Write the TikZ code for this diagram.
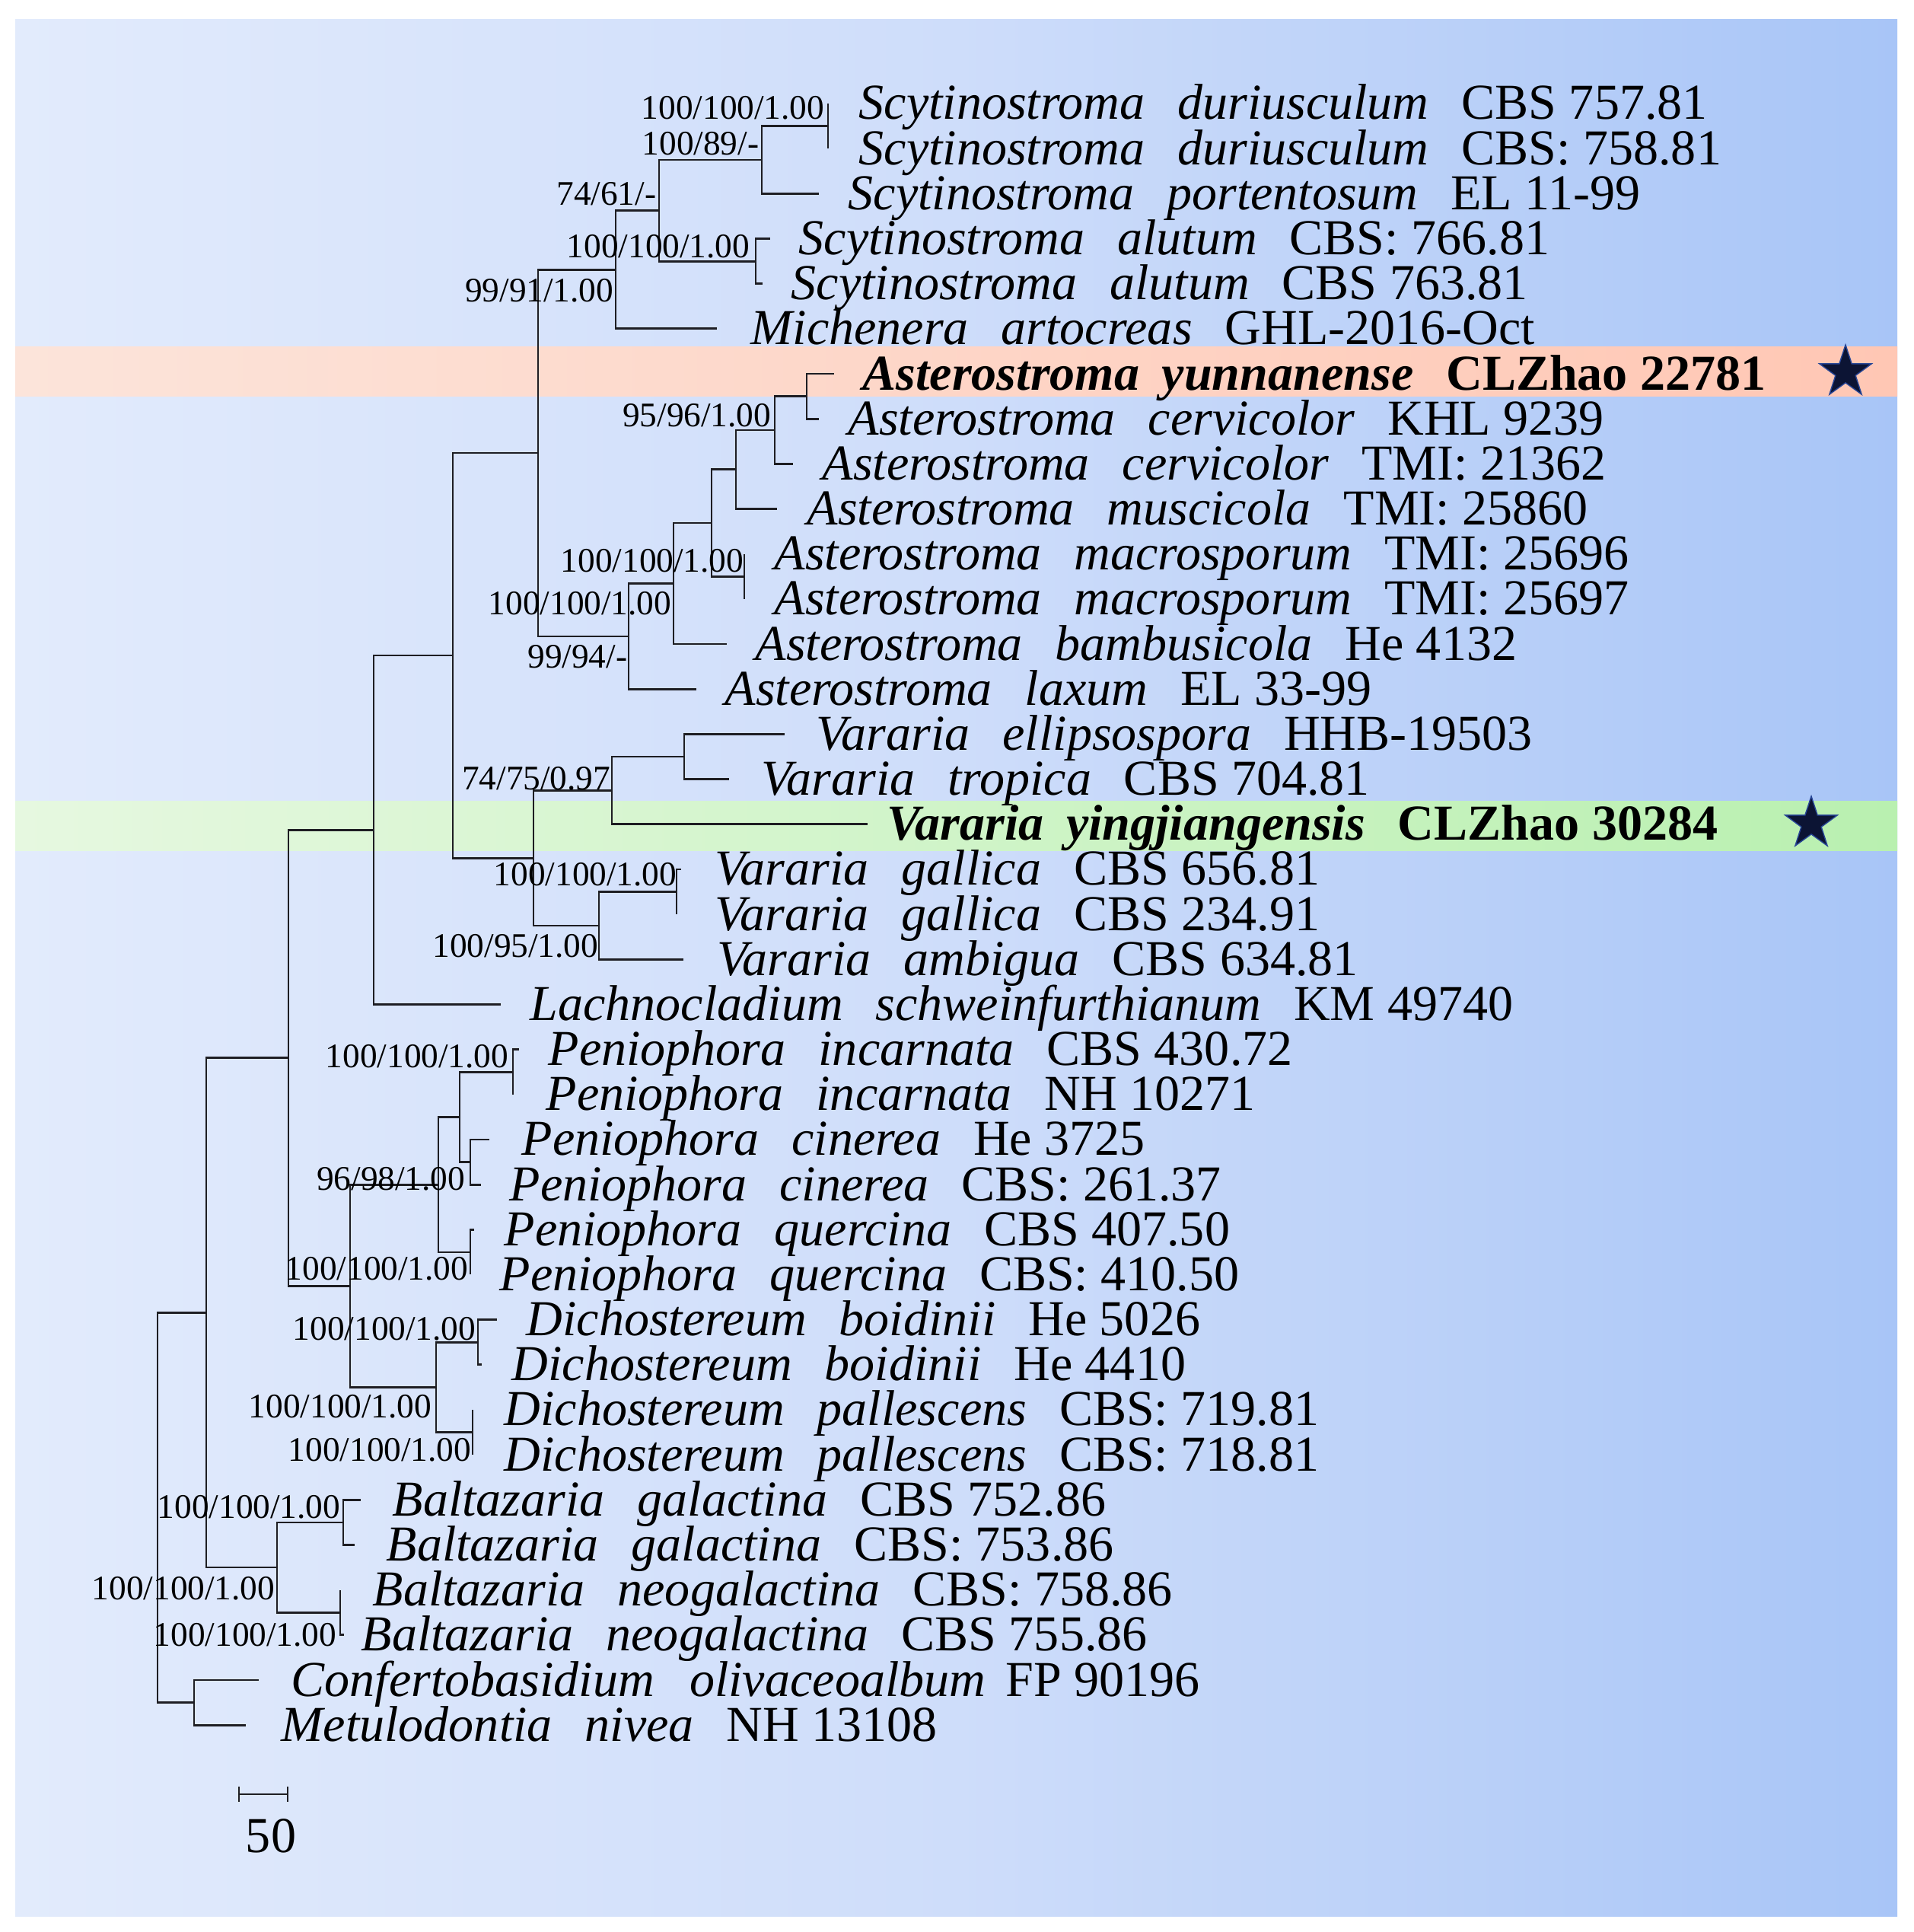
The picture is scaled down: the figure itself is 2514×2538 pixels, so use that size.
\documentclass[tikz,border=0pt]{standalone}
\usepackage{fontspec}
\setmainfont{Liberation Serif}
\usetikzlibrary{shapes.geometric}
\definecolor{bgL}{RGB}{226,235,252}
\definecolor{bgM}{RGB}{206,221,250}
\definecolor{bgR}{RGB}{168,197,247}
\definecolor{orL}{RGB}{252,228,218}
\definecolor{orR}{RGB}{255,199,180}
\definecolor{grL}{RGB}{230,248,224}
\definecolor{grR}{RGB}{185,240,176}
\definecolor{lineC}{RGB}{30,30,35}
\definecolor{starC}{RGB}{12,20,52}
\definecolor{starE}{RGB}{40,70,150}
\newcommand{\taxon}[3]{\textit{#1}\hspace{0.65em}\textit{#2}\hspace{0.65em}#3}
\newcommand{\btaxon}[3]{\textbf{\textit{#1}\hspace{0.45em}\textit{#2}\hspace{0.65em}#3}}
\begin{document}
\begin{tikzpicture}[x=0.1mm,y=-0.1mm,
  br/.style={line width=0.8pt, draw=lineC},
  tiplab/.style={anchor=base west, inner sep=0pt, font=\fontsize{18.8}{20}\selectfont},
  suplab/.style={anchor=base east, inner sep=0pt, font=\fontsize{12.9}{14}\selectfont},
  starmark/.style={star, star points=5, star point ratio=2.6, minimum size=7.2mm, inner sep=0pt, fill=starC, draw=starE, line width=0.4pt}]
\useasboundingbox (0,0) rectangle (2514,2538);
\fill[white] (0,0) rectangle (2514,2538);
\shade[left color=bgL, right color=bgR, middle color=bgM] (20,26) rectangle (2493,2517);
\shade[left color=orL, right color=orR] (20,455) rectangle (2493,520);
\shade[left color=grL, right color=grR] (20,1052) rectangle (2493,1117);

% tips
\coordinate (t1) at (1088,136);
\coordinate (t2) at (1088,195.2);
\coordinate (t3) at (1076,254.3);
\coordinate (t4) at (1012,313.5);
\coordinate (t5) at (1002,372.7);
\coordinate (t6) at (942,431.9);
\coordinate (t7) at (1096,491.0);
\coordinate (t8) at (1076,550.2);
\coordinate (t9) at (1042,609.4);
\coordinate (t10) at (1021,668.5);
\coordinate (t11) at (978,727.7);
\coordinate (t12) at (978,786.9);
\coordinate (t13) at (955,846.0);
\coordinate (t14) at (915,905.2);
\coordinate (t15) at (1031,964.4);
\coordinate (t16) at (958,1023.6);
\coordinate (t17) at (1140,1082.7);
\coordinate (t18) at (895,1141.9);
\coordinate (t19) at (889,1201.1);
\coordinate (t20) at (898,1260.2);
\coordinate (t21) at (658,1319.4);
\coordinate (t22) at (682,1378.6);
\coordinate (t23) at (674,1437.7);
\coordinate (t24) at (643,1496.9);
\coordinate (t25) at (632,1556.1);
\coordinate (t26) at (623,1615.3);
\coordinate (t27) at (618,1674.4);
\coordinate (t28) at (653,1733.6);
\coordinate (t29) at (633,1792.8);
\coordinate (t30) at (621,1851.9);
\coordinate (t31) at (621,1911.1);
\coordinate (t32) at (474,1970.3);
\coordinate (t33) at (466,2029.4);
\coordinate (t34) at (447,2088.6);
\coordinate (t35) at (452,2147.8);
\coordinate (t36) at (340,2207.0);
\coordinate (t37) at (323,2266.1);

% internal nodes
\coordinate (K) at (1088,165.6);
\coordinate (I) at (1001,210);
\coordinate (J) at (993,343.1);
\coordinate (H) at (866,276.5);
\coordinate (F) at (809,354.2);
\coordinate (Q) at (1060,520.6);
\coordinate (P) at (1018,565);
\coordinate (N) at (967,616.8);
\coordinate (O) at (978,757.3);
\coordinate (M) at (935,687);
\coordinate (L) at (885,766.5);
\coordinate (G) at (826,835.9);
\coordinate (E) at (707,595);
\coordinate (T) at (899,994);
\coordinate (R) at (804,1038.4);
\coordinate (U) at (889,1171.5);
\coordinate (S) at (787,1215.9);
\coordinate (V) at (701,1127.1);
\coordinate (D) at (595,861);
\coordinate (C) at (491,1090.2);
\coordinate (Inc) at (674,1408.2);
\coordinate (Cin) at (618,1526.5);
\coordinate (Zn) at (604,1467.3);
\coordinate (Que) at (618,1644.9);
\coordinate (X) at (576,1556.1);
\coordinate (Boi) at (628,1763.2);
\coordinate (Pal) at (621,1881.5);
\coordinate (Y) at (573,1822.4);
\coordinate (W) at (460,1689.2);
\coordinate (B) at (379,1389.7);
\coordinate (Gal) at (451,1999.9);
\coordinate (Neo) at (447,2118.2);
\coordinate (Bal) at (364,2059);
\coordinate (A) at (271,1724.4);
\coordinate (CM) at (255,2236.5);
\coordinate (Root) at (207,1980.5);

% branches
\draw[br] (K) |- (t1); \draw[br] (K) |- (t2);
\draw[br] (I) |- (K); \draw[br] (I) |- (t3);
\draw[br] (J) |- (t4); \draw[br] (J) |- (t5);
\draw[br] (H) |- (I); \draw[br] (H) |- (J);
\draw[br] (F) |- (H); \draw[br] (F) |- (t6);
\draw[br] (Q) |- (t7); \draw[br] (Q) |- (t8);
\draw[br] (P) |- (Q); \draw[br] (P) |- (t9);
\draw[br] (N) |- (P); \draw[br] (N) |- (t10);
\draw[br] (O) |- (t11); \draw[br] (O) |- (t12);
\draw[br] (M) |- (N); \draw[br] (M) |- (O);
\draw[br] (L) |- (M); \draw[br] (L) |- (t13);
\draw[br] (G) |- (L); \draw[br] (G) |- (t14);
\draw[br] (E) |- (F); \draw[br] (E) |- (G);
\draw[br] (T) |- (t15); \draw[br] (T) |- (t16);
\draw[br] (R) |- (T); \draw[br] (R) |- (t17);
\draw[br] (U) |- (t18); \draw[br] (U) |- (t19);
\draw[br] (S) |- (U); \draw[br] (S) |- (t20);
\draw[br] (V) |- (R); \draw[br] (V) |- (S);
\draw[br] (D) |- (E); \draw[br] (D) |- (V);
\draw[br] (C) |- (D); \draw[br] (C) |- (t21);
\draw[br] (Inc) |- (t22); \draw[br] (Inc) |- (t23);
\draw[br] (Cin) |- (t24); \draw[br] (Cin) |- (t25);
\draw[br] (Zn) |- (Inc); \draw[br] (Zn) |- (Cin);
\draw[br] (Que) |- (t26); \draw[br] (Que) |- (t27);
\draw[br] (X) |- (Zn); \draw[br] (X) |- (Que);
\draw[br] (Boi) |- (t28); \draw[br] (Boi) |- (t29);
\draw[br] (Pal) |- (t30); \draw[br] (Pal) |- (t31);
\draw[br] (Y) |- (Boi); \draw[br] (Y) |- (Pal);
\draw[br] (W) |- (X); \draw[br] (W) |- (Y);
\draw[br] (B) |- (C); \draw[br] (B) |- (W);
\draw[br] (Gal) |- (t32); \draw[br] (Gal) |- (t33);
\draw[br] (Neo) |- (t34); \draw[br] (Neo) |- (t35);
\draw[br] (Bal) |- (Gal); \draw[br] (Bal) |- (Neo);
\draw[br] (A) |- (B); \draw[br] (A) |- (Bal);
\draw[br] (CM) |- (t36); \draw[br] (CM) |- (t37);
\draw[br] (Root) |- (A); \draw[br] (Root) |- (CM);

% tip labels
\node[tiplab] (l1) at (1128,157) {\taxon{Scytinostroma}{duriusculum}{CBS 757.81}};
\node[tiplab] (l2) at (1128,216.2) {\taxon{Scytinostroma}{duriusculum}{CBS: 758.81}};
\node[tiplab] (l3) at (1114,275.3) {\taxon{Scytinostroma}{portentosum}{EL 11-99}};
\node[tiplab] (l4) at (1049,334.5) {\taxon{Scytinostroma}{alutum}{CBS: 766.81}};
\node[tiplab] (l5) at (1039,393.7) {\taxon{Scytinostroma}{alutum}{CBS 763.81}};
\node[tiplab] (l6) at (986,452.9) {\taxon{Michenera}{artocreas}{GHL-2016-Oct}};
\node[tiplab] (l7) at (1133,512.0) {\btaxon{Asterostroma}{yunnanense}{CLZhao 22781}};
\node[tiplab] (l8) at (1114,571.2) {\taxon{Asterostroma}{cervicolor}{KHL 9239}};
\node[tiplab] (l9) at (1080,630.4) {\taxon{Asterostroma}{cervicolor}{TMI: 21362}};
\node[tiplab] (l10) at (1060,689.5) {\taxon{Asterostroma}{muscicola}{TMI: 25860}};
\node[tiplab] (l11) at (1017,748.7) {\taxon{Asterostroma}{macrosporum}{TMI: 25696}};
\node[tiplab] (l12) at (1017,807.9) {\taxon{Asterostroma}{macrosporum}{TMI: 25697}};
\node[tiplab] (l13) at (992,867.0) {\taxon{Asterostroma}{bambusicola}{He 4132}};
\node[tiplab] (l14) at (952,926.2) {\taxon{Asterostroma}{laxum}{EL 33-99}};
\node[tiplab] (l15) at (1072,985.4) {\taxon{Vararia}{ellipsospora}{HHB-19503}};
\node[tiplab] (l16) at (1000,1044.6) {\taxon{Vararia}{tropica}{CBS 704.81}};
\node[tiplab] (l17) at (1165,1103.7) {\btaxon{Vararia}{yingjiangensis}{CLZhao 30284}};
\node[tiplab] (l18) at (939,1162.9) {\taxon{Vararia}{gallica}{CBS 656.81}};
\node[tiplab] (l19) at (939,1222.1) {\taxon{Vararia}{gallica}{CBS 234.91}};
\node[tiplab] (l20) at (942,1281.2) {\taxon{Vararia}{ambigua}{CBS 634.81}};
\node[tiplab] (l21) at (696,1340.4) {\taxon{Lachnocladium}{schweinfurthianum}{KM 49740}};
\node[tiplab] (l22) at (720,1399.6) {\taxon{Peniophora}{incarnata}{CBS 430.72}};
\node[tiplab] (l23) at (717,1458.7) {\taxon{Peniophora}{incarnata}{NH 10271}};
\node[tiplab] (l24) at (685,1517.9) {\taxon{Peniophora}{cinerea}{He 3725}};
\node[tiplab] (l25) at (669,1577.1) {\taxon{Peniophora}{cinerea}{CBS: 261.37}};
\node[tiplab] (l26) at (662,1636.3) {\taxon{Peniophora}{quercina}{CBS 407.50}};
\node[tiplab] (l27) at (656,1695.4) {\taxon{Peniophora}{quercina}{CBS: 410.50}};
\node[tiplab] (l28) at (691,1754.6) {\taxon{Dichostereum}{boidinii}{He 5026}};
\node[tiplab] (l29) at (672,1813.8) {\taxon{Dichostereum}{boidinii}{He 4410}};
\node[tiplab] (l30) at (662,1872.9) {\taxon{Dichostereum}{pallescens}{CBS: 719.81}};
\node[tiplab] (l31) at (662,1932.1) {\taxon{Dichostereum}{pallescens}{CBS: 718.81}};
\node[tiplab] (l32) at (515,1991.3) {\taxon{Baltazaria}{galactina}{CBS 752.86}};
\node[tiplab] (l33) at (507,2050.4) {\taxon{Baltazaria}{galactina}{CBS: 753.86}};
\node[tiplab] (l34) at (489,2109.6) {\taxon{Baltazaria}{neogalactina}{CBS: 758.86}};
\node[tiplab] (l35) at (474,2168.8) {\taxon{Baltazaria}{neogalactina}{CBS 755.86}};
\node[tiplab] (l36) at (382,2228.0) {\textit{Confertobasidium}\hspace{0.7em}\textit{olivaceoalbum}\hspace{0.4em}FP 90196};
\node[tiplab] (l37) at (369,2287.1) {\taxon{Metulodontia}{nivea}{NH 13108}};

% support values
\node[suplab] (s1) at (1084,157) {100/100/1.00};
\node[suplab] (s2) at (998,203) {100/89/-};
\node[suplab] (s3) at (863,270) {74/61/-};
\node[suplab] (s4) at (986,338) {100/100/1.00};
\node[suplab] (s5) at (807,396) {99/91/1.00};
\node[suplab] (s6) at (1014,560) {95/96/1.00};
\node[suplab] (s7) at (978,751) {100/100/1.00};
\node[suplab] (s8) at (883,807) {100/100/1.00};
\node[suplab] (s9) at (825,877) {99/94/-};
\node[suplab] (s10) at (803,1037) {74/75/0.97};
\node[suplab] (s11) at (890,1163) {100/100/1.00};
\node[suplab] (s12) at (787,1257) {100/95/1.00};
\node[suplab] (s13) at (669,1402) {100/100/1.00};
\node[suplab] (s14) at (612,1563) {96/98/1.00};
\node[suplab] (s15) at (616,1681) {100/100/1.00};
\node[suplab] (s16) at (626,1760) {100/100/1.00};
\node[suplab] (s17) at (568,1862) {100/100/1.00};
\node[suplab] (s18) at (620,1919) {100/100/1.00};
\node[suplab] (s19) at (448,1994) {100/100/1.00};
\node[suplab] (s20) at (362,2101) {100/100/1.00};
\node[suplab] (s21) at (443,2162) {100/100/1.00};

% stars
\node[starmark] (star1) at (2425,489) {};
\node[starmark] (star2) at (2380,1082) {};

% scale bar
\coordinate (sb1) at (314,2357);
\coordinate (sb2) at (378,2357);
\draw[br] (sb1) -- (sb2);
\draw[br] ([yshift=1mm]sb1) -- ([yshift=-1mm]sb1);
\draw[br] ([yshift=1mm]sb2) -- ([yshift=-1mm]sb2);
\node[anchor=base, inner sep=0pt, font=\fontsize{18.8}{20}\selectfont] (sblab) at (356,2433) {50};
\end{tikzpicture}
\end{document}
